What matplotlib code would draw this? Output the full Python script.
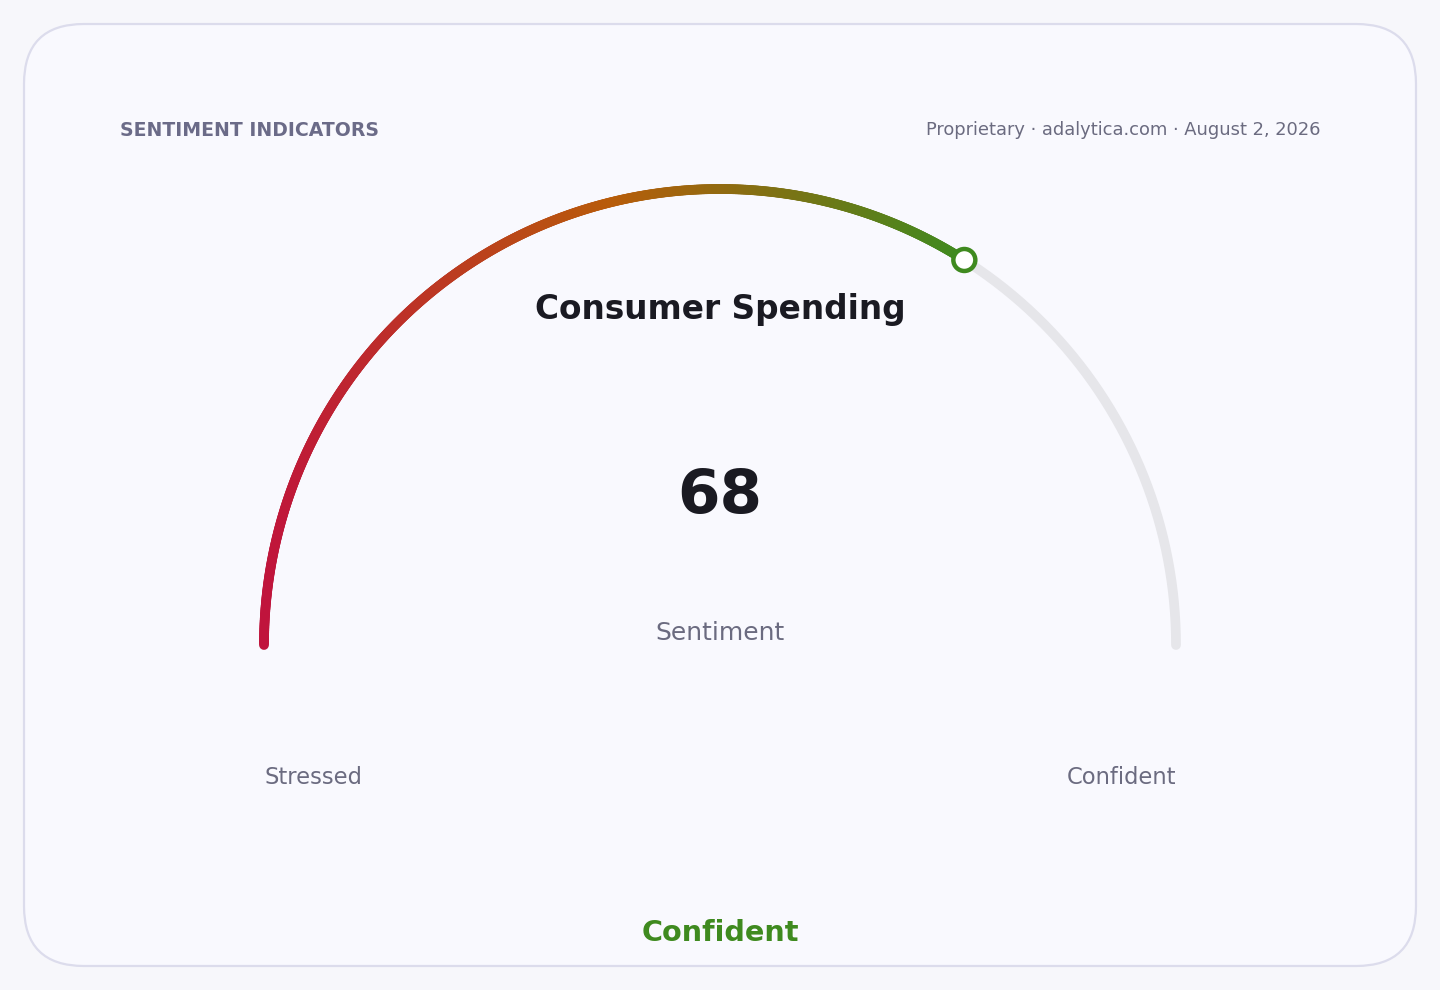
import numpy as np
import matplotlib
matplotlib.use("Agg")
import matplotlib.pyplot as plt
from matplotlib.collections import LineCollection
from matplotlib.colors import LinearSegmentedColormap
from matplotlib.patches import FancyBboxPatch, Circle

# data
card_title = "SENTIMENT INDICATORS"
source_note = "Proprietary \u00b7 adalytica.com \u00b7 August 2, 2026"
gauge_title = "Consumer Spending"
gauge_value = 68
gauge_min, gauge_max = 0, 100
value_label = "Sentiment"
range_labels = ["Stressed", "Confident"]
status_label = "Confident"
grad_colors = ["#c0143c", "#b85c0a", "#3f8a1f"]

W, H = 1440, 990
fig = plt.figure(figsize=(W / 100, H / 100), dpi=100)
fig.patch.set_facecolor("#f7f7fb")
ax = fig.add_axes([0, 0, 1, 1])
ax.set_xlim(0, W)
ax.set_ylim(H, 0)
ax.set_aspect("equal")
ax.axis("off")

# card
card = FancyBboxPatch((24, 24), 1392, 942, boxstyle="round,pad=0,rounding_size=60",
                      facecolor="#f9f9fe", edgecolor="#dcdcec", linewidth=1.6)
ax.add_patch(card)

ax.text(120, 130, card_title, fontsize=13.6, fontweight="bold", color="#6b6b88",
        ha="left", va="center")
ax.text(1320, 130, source_note, fontsize=12.9, color="#6b6b80", ha="right", va="center")

# gauge geometry
cx, cy, r = 720, 645, 456
frac = (gauge_value - gauge_min) / (gauge_max - gauge_min)
lw = 7

# track
th = np.linspace(np.pi, 0, 400)
ax.plot(cx + r * np.cos(th), cy - r * np.sin(th), color="#e6e6ea", lw=lw,
        solid_capstyle="round", zorder=2)

# filled arc with horizontal gradient
end_ang = np.pi * (1 - frac)
th = np.linspace(np.pi, end_ang, 600)
xs = cx + r * np.cos(th)
ys = cy - r * np.sin(th)
pts = np.column_stack([xs, ys]).reshape(-1, 1, 2)
segs = np.concatenate([pts[:-1], pts[1:]], axis=1)
cmap = LinearSegmentedColormap.from_list("g", grad_colors)
xm = (xs[:-1] + xs[1:]) / 2
cvals = (xm - xs.min()) / (xs.max() - xs.min())
lc = LineCollection(segs, colors=cmap(cvals), linewidths=lw, capstyle="round",
                    antialiaseds=True, zorder=3)
ax.add_collection(lc)

# marker
ax.add_patch(Circle((xs[-1], ys[-1]), 11, facecolor="white", edgecolor=grad_colors[-1],
                    linewidth=3.2, zorder=4))

ax.text(cx, 309, gauge_title, fontsize=23.6, fontweight="bold", color="#1a1a22",
        ha="center", va="center")
ax.text(cx, 497, str(gauge_value), fontsize=44, fontweight="bold", color="#1a1a22",
        ha="center", va="center")
ax.text(cx, 633, value_label, fontsize=18, color="#6b6b80", ha="center", va="center")
ax.text(cx - r, 777, range_labels[0], fontsize=16.3, color="#6b6b80", ha="left", va="center")
ax.text(cx + r, 777, range_labels[1], fontsize=16.3, color="#6b6b80", ha="right", va="center")
ax.text(cx, 933, status_label, fontsize=20.7, fontweight="bold", color=grad_colors[-1],
        ha="center", va="center")

fig.savefig("out.png", dpi=100, facecolor=fig.get_facecolor())
